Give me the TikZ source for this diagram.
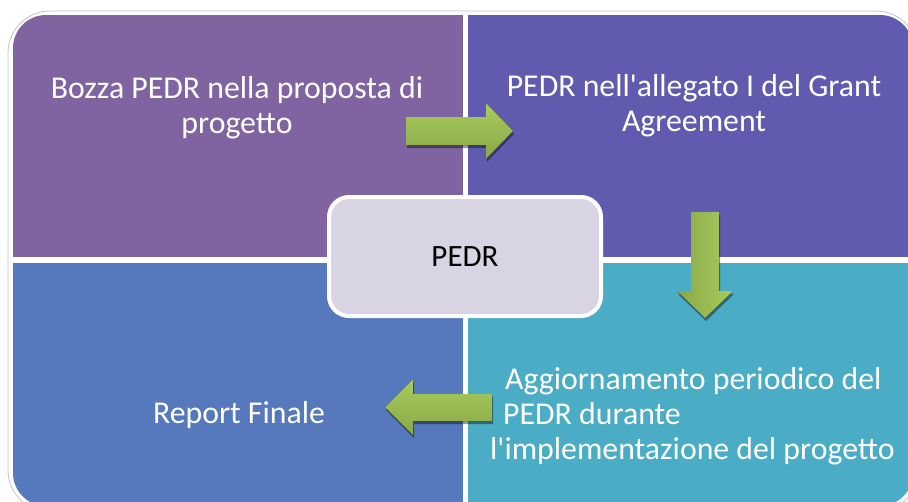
\documentclass[tikz,border=0pt]{standalone}
\usepackage{fontspec}
\setmainfont{Carlito}
\usetikzlibrary{shadows}
\definecolor{pdPurple}{HTML}{8064A2}
\definecolor{pdIndigo}{HTML}{605BAE}
\definecolor{pdBlue}  {HTML}{5579BC}
\definecolor{pdTeal}  {HTML}{4BACC6}
\definecolor{pdLilac} {HTML}{D8D4E4}
\definecolor{pdFrame} {HTML}{C4C4C4}
\definecolor{pdLeafHi}{HTML}{A8CB5E}
\definecolor{pdLeafLo}{HTML}{8AA847}
\tikzset{
  pdquad/.style={rectangle, inner sep=0pt, anchor=north west},
  pdtext/.style={text=white, align=center, inner sep=0pt,
                 font=\fontsize{31.8}{35}\selectfont},
  pdhub/.style={rectangle, rounded corners=20pt, fill=pdLilac, draw=white,
                line width=4pt, minimum width=272pt, minimum height=119pt,
                font=\fontsize{31}{35}\selectfont},
  pdarrow/.style={draw=none,
                  drop shadow={shadow xshift=1pt, shadow yshift=-3pt,
                               fill=black, opacity=.4}},
}
\begin{document}
\begin{tikzpicture}[x=1pt, y=-1pt]
  \useasboundingbox (0,0) rectangle (908,501);
  \clip (0,0) rectangle (908,501);
  % outer frame
  \draw[pdFrame, fill=white, rounded corners=42pt, line width=.8pt]
    (8,11) rectangle (918,512);
  % four quadrants
  \begin{scope}
    \clip[rounded corners=33pt] (13,15) rectangle (913,506);
    \node[pdquad, fill=pdPurple, minimum width=450pt, minimum height=242pt] (tl) at (13,15) {};
    \node[pdquad, fill=pdIndigo, minimum width=445pt, minimum height=242pt] (tr) at (468,15) {};
    \node[pdquad, fill=pdBlue,   minimum width=450pt, minimum height=243pt] (bl) at (13,263) {};
    \node[pdquad, fill=pdTeal,   minimum width=445pt, minimum height=243pt] (br) at (468,263) {};
  \end{scope}
  \node[pdtext] (tltext) at (237,108) {Bozza PEDR nella proposta di\\progetto};
  \node[pdtext] (trtext) at (694,106) {PEDR nell\textquotesingle allegato I del Grant\\Agreement};
  \node[pdtext] (bltext) at (239,415) {Report Finale};
  \node[pdtext, align=left, anchor=west] (brtext) at (490,416)
    {\hspace*{15pt}Aggiornamento periodico del\\\hspace*{13pt}PEDR durante\\l\textquotesingle implementazione del progetto};
  % hub
  \node[pdhub] (pedr) at (465,256.5) {PEDR};
  % block arrows
  \fill[pdarrow, top color=pdLeafHi, bottom color=pdLeafLo]
    (406,117) -- (486,117) -- (486,103) -- (513,131) -- (486,159)
    -- (486,145) -- (406,145) -- cycle;
  \fill[pdarrow, left color=pdLeafLo, right color=pdLeafHi]
    (691,212) -- (719,212) -- (719,291) -- (733,291) -- (705,318)
    -- (677,291) -- (691,291) -- cycle;
  \fill[pdarrow, top color=pdLeafHi, bottom color=pdLeafLo]
    (492,394) -- (413,394) -- (413,379) -- (385,407) -- (413,435)
    -- (413,421) -- (492,421) -- cycle;
\end{tikzpicture}
\end{document}
